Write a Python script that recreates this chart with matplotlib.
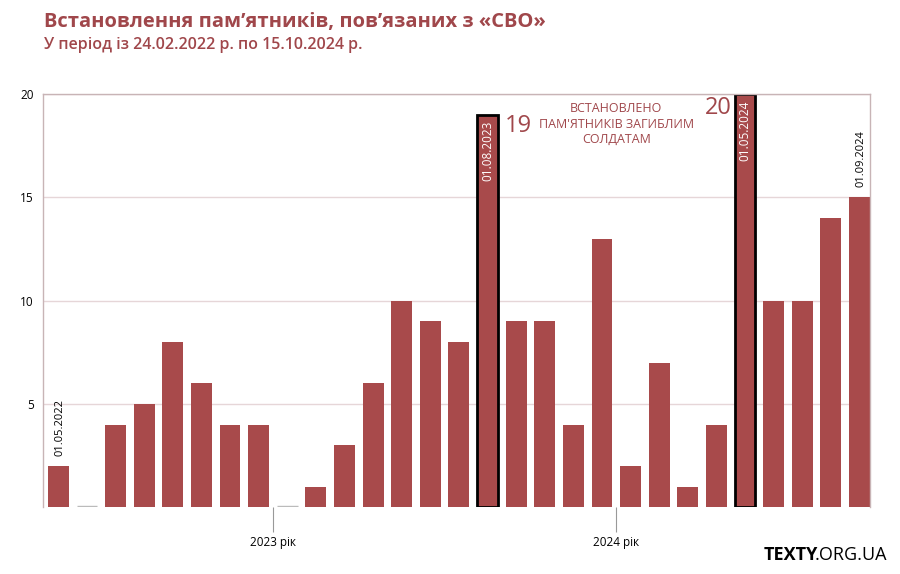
import matplotlib.pyplot as plt
import numpy as np

plt.rcParams['font.family'] = ['Open Sans', 'DejaVu Sans']

# monthly counts, 01.05.2022 ... 01.09.2024
months = ['01.05.2022', '01.06.2022', '01.07.2022', '01.08.2022', '01.09.2022',
          '01.10.2022', '01.11.2022', '01.12.2022', '01.01.2023', '01.02.2023',
          '01.03.2023', '01.04.2023', '01.05.2023', '01.06.2023', '01.07.2023',
          '01.08.2023', '01.09.2023', '01.10.2023', '01.11.2023', '01.12.2023',
          '01.01.2024', '01.02.2024', '01.03.2024', '01.04.2024', '01.05.2024',
          '01.06.2024', '01.07.2024', '01.08.2024', '01.09.2024']
values = [2, 0, 4, 5, 8, 6, 4, 4, 0, 1, 3, 6, 10, 9, 8, 19,
          9, 9, 4, 13, 2, 7, 1, 4, 20, 10, 10, 14, 15]
highlight = ['01.08.2023', '01.05.2024']
year_ticks = [7.5, 19.5]
year_labels = ['2023 рік', '2024 рік']

red = '#a84a4b'
title_red = '#a0474b'
grid_c = '#e6d6d8'

fig = plt.figure(figsize=(9, 5.74), dpi=100)
ax = fig.add_axes([0.048, 0.1162, 0.919, 0.7200])

x = np.arange(len(values))
ax.set_axisbelow(True)
ax.grid(axis='y', color=grid_c, linewidth=1)
bars = ax.bar(x, values, width=0.73, color=red, linewidth=0, zorder=2)

# empty months drawn as a thin grey line
for i, v in enumerate(values):
    if v == 0:
        ax.hlines(0.05, i - 0.365, i + 0.365, color='#bbbbbb', linewidth=1, zorder=2)

for i, m in enumerate(months):
    if m in highlight:
        bars[i].set_edgecolor('black')
        bars[i].set_linewidth(2)
        ax.text(i, values[i] - 0.3, m, rotation=90, ha='center', va='top',
                color='white', fontsize=8.5, zorder=3)

i1 = months.index(highlight[0])
i2 = months.index(highlight[1])
ax.text(i1 + 0.6, values[i1] - 0.55, str(values[i1]), ha='left', va='center',
        color=title_red, fontsize=17)
ax.text(i2 - 0.45, values[i2] - 0.7, str(values[i2]), ha='right', va='center',
        color=title_red, fontsize=17)
ax.text(19.5, 19.6, "ВСТАНОВЛЕНО\nПАМ'ЯТНИКІВ ЗАГИБЛИМ\nСОЛДАТАМ", ha='center',
        va='top', color=title_red, fontsize=9, linespacing=1.25)

# first and last date labels
for i in [0, len(values) - 1]:
    ax.text(i + 0.05, values[i] + 0.5, months[i], rotation=90, ha='center',
            va='bottom', color='black', fontsize=8)

ax.set_xlim(-0.53, len(values) - 1 + 0.38)
ax.set_ylim(0, 20)
ax.set_yticks([5, 10, 15, 20])
ax.set_xticks(year_ticks)
ax.set_xticklabels(year_labels, fontsize=8.5)
ax.tick_params(axis='x', length=18, width=0.8, color='#999999', pad=3)
ax.tick_params(axis='y', length=0, labelsize=8.5, pad=7)

for s in ['left', 'top', 'right']:
    ax.spines[s].set_color('#c8b4b6')
    ax.spines[s].set_linewidth(1)
ax.spines['bottom'].set_visible(False)

fig.text(0.049, 0.962, 'Встановлення пам’ятників, пов’язаних з «СВО»', fontsize=14.5,
         fontweight='bold', color=title_red, va='center')
fig.text(0.049, 0.921, 'У період із 24.02.2022 р. по 15.10.2024 р.', fontsize=11.5,
         fontweight='semibold', color=title_red, va='center')

fig.text(0.848, 0.033, 'TEXTY', fontsize=13, fontweight='bold', color='black',
         va='center', ha='left')
fig.text(0.986, 0.033, '.ORG.UA', fontsize=13, color='black', va='center', ha='right')

fig.savefig('out.png', dpi=100)
